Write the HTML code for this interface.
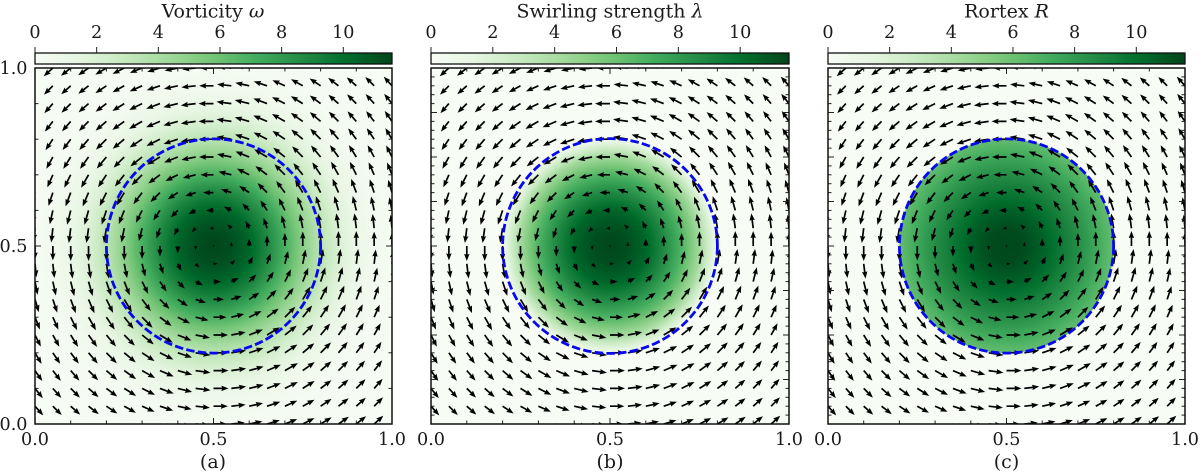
<!DOCTYPE html>
<html lang="en">
<head>
<meta charset="utf-8">
<title>Vorticity, swirling strength and Rortex</title>
<style>
html,body{margin:0;padding:0;background:#fff;width:1200px;height:475px;overflow:hidden}
svg{display:block}
text{font-family:"DejaVu Serif","Liberation Serif",serif;fill:#1a1a1a}
.title{font-size:19px;text-anchor:middle}
.cap{font-size:19px;text-anchor:middle}
.tick{font-size:17.6px}
</style>
</head>
<body>
<svg id="fig" width="1200" height="475" viewBox="0 0 1200 475" xmlns="http://www.w3.org/2000/svg">
  <defs id="defs"></defs>
  <text class="title" x="213" y="17.5">Vorticity <tspan font-style="italic">ω</tspan></text>
  <text class="title" x="610" y="17.5">Swirling strength <tspan font-style="italic">λ</tspan></text>
  <text class="title" x="1006.5" y="17.5">Rortex <tspan font-style="italic">R</tspan></text>
  <text class="cap" x="213" y="468">(a)</text>
  <text class="cap" x="610" y="468">(b)</text>
  <text class="cap" x="1006.5" y="468">(c)</text>
</svg>
<script>
// ---- data ----
const radiusSamples   = [0, .05, .1, .15, .2, .25, .3, .301, .35, .4, .45, .5, .6, .75];
const vorticityValues = [11.5, 11.2, 10.4, 8.9, 7.0, 5.1, 3.4, 3.4, 2.0, 1.0, .45, .2, .05, 0];
const swirlValues     = [11.5, 11.2, 10.4, 8.8, 6.8, 4.3, .6, 0, 0, 0, 0, 0, 0, 0];
const rortexValues    = [11.5, 11.3, 10.6, 9.6, 8.6, 7.4, 6.2, 0, 0, 0, 0, 0, 0, 0];
const speedRadii      = [0, .05, .1, .15, .2, .25, .3, .35, .4, .45, .5, .6, .72];
const speedValues     = [0, .27, .5, .7, .87, .97, 1, 1, 1, .96, .9, .85, .8];
const colorbarTicks   = [0, 2, 4, 6, 8, 10];
const colorbarMax     = 11.58;
const ringRadius      = 0.3;
const xTickLabels     = ['0.0', '0.5', '1.0'];
const yTickLabels     = ['0.0', '0.5', '1.0'];
const greens = ['#f7fcf5','#e5f5e0','#c7e9c0','#a1d99b','#74c476','#41ab5d','#238b45','#006d2c','#00441b'];

// ---- layout ----
const panels = [
  {id:'vorticity', x0:35,  x1:392, values:vorticityValues, yMajor:.5,   yMinor:.1,   labels:true},
  {id:'swirl',     x0:431, x1:789, values:swirlValues,     yMajor:.125, yMinor:.025, labels:false},
  {id:'rortex',    x0:828, x1:1185,values:rortexValues,    yMajor:.125, yMinor:.025, labels:false}
];
const yTop = 68, yBot = 424, cbTop = 53, cbBot = 64;
const arrowScale = 15, gridN = 20;
const NS = 'http://www.w3.org/2000/svg';
const fig = document.getElementById('fig');
const defs = document.getElementById('defs');

function mk(tag, attrs, parent){
  const e = document.createElementNS(NS, tag);
  for (const k in attrs) e.setAttribute(k, attrs[k]);
  parent.appendChild(e);
  return e;
}
function hex2(c){return [1,3,5].map(i=>parseInt(c.substr(i,2),16));}
function cmap(t){
  t = Math.max(0, Math.min(1, t));
  const p = t*(greens.length-1), i = Math.min(Math.floor(p), greens.length-2), f = p-i;
  const a = hex2(greens[i]), b = hex2(greens[i+1]);
  return 'rgb('+a.map((v,k)=>Math.round(v+(b[k]-v)*f)).join(',')+')';
}
function lookup(xs, ys, x){
  if (x >= xs[xs.length-1]) return ys[ys.length-1];
  for (let i=0;i<xs.length-1;i++){
    if (x <= xs[i+1]) return ys[i]+(ys[i+1]-ys[i])*(x-xs[i])/(xs[i+1]-xs[i]);
  }
  return 0;
}
function arrowPoints(x, y, dx, dy, L){
  const w = 1.7, hl = 4.2*w, hal = 3.8*w, hw = 1.6*w;
  const s = L < hl ? L/hl : 1;
  const len = L;
  const nx = -dy, ny = dx;
  const pts = [[0,w/2],[len-hal*s,w/2],[len-hl*s,hw*s],[len,0],[len-hl*s,-hw*s],[len-hal*s,-w/2],[0,-w/2]];
  return pts.map((p,i)=>{
    const off = (i===0||i===1||i===5||i===6) ? p[1]*s : p[1];
    return (x+dx*p[0]+nx*off).toFixed(2)+','+(y+dy*p[0]+ny*off).toFixed(2);
  }).join(' ');
}

panels.forEach((P)=>{
  const sx = v => P.x0 + (P.x1-P.x0)*v;
  const sy = v => yBot - (yBot-yTop)*v;
  const cx = v => P.x0 + (P.x1-P.x0)*v/colorbarMax;
  const unit = P.x1-P.x0;
  const g = mk('g', {}, fig);
  
  

  // colorbar
  const lg = mk('linearGradient', {id:'cb-'+P.id, x1:0, x2:1, y1:0, y2:0}, defs);
  greens.forEach((c,i)=>mk('stop', {offset:i/(greens.length-1), 'stop-color':c}, lg));
  const cb = mk('rect', {x:P.x0, y:cbTop, width:P.x1-P.x0, height:cbBot-cbTop, fill:'url(#cb-'+P.id+')', stroke:'#111', 'stroke-width':1.3}, g);
  
  
  colorbarTicks.forEach((t)=>{
    const tk = mk('line', {x1:cx(t), x2:cx(t), y1:cbTop, y2:cbTop-6, stroke:'#222', 'stroke-width':1}, g);
    
    
    const lb = mk('text', {x:cx(t), y:38, 'text-anchor':'middle', class:'tick'}, g);
    
    
    lb.textContent = String(t);
  });

  // heat map (radial field from sampled profile)
  const rMax = radiusSamples[radiusSamples.length-1];
  const rg = mk('radialGradient', {id:'heat-'+P.id, gradientUnits:'userSpaceOnUse', cx:sx(.5), cy:sy(.5), r:rMax*unit}, defs);
  for (let i=0;i<radiusSamples.length-1;i++){
    for (let k=0;k<8;k++){
      const r = radiusSamples[i]+(radiusSamples[i+1]-radiusSamples[i])*k/8;
      mk('stop', {offset:(r/rMax).toFixed(5), 'stop-color':cmap(lookup(radiusSamples,P.values,r)/colorbarMax)}, rg);
    }
  }
  mk('stop', {offset:1, 'stop-color':cmap(P.values[P.values.length-1]/colorbarMax)}, rg);
  const clip = mk('clipPath', {id:'clip-'+P.id}, defs);
  mk('rect', {x:P.x0, y:yTop, width:P.x1-P.x0, height:yBot-yTop}, clip);
  const plot = mk('g', {'clip-path':'url(#clip-'+P.id+')'}, g);
  const heat = mk('rect', {x:P.x0, y:yTop, width:P.x1-P.x0, height:yBot-yTop, fill:'url(#heat-'+P.id+')'}, plot);
  
  

  // quiver
  const q = mk('g', {fill:'#000'}, plot);
  
  
  for (let i=0;i<=gridN;i++){
    for (let j=0;j<=gridN;j++){
      const X = i/gridN, Y = j/gridN, dx = X-.5, dy = Y-.5, r = Math.hypot(dx,dy);
      if (r < 1e-6){
        const dot = mk('circle', {cx:sx(X), cy:sy(Y), r:.7}, q);
        
        
        continue;
      }
      const L = lookup(speedRadii, speedValues, r)*arrowScale;
      const a = mk('polygon', {points:arrowPoints(sx(X), sy(Y), -dy/r, -dx/r, L)}, q);
      
      
    }
  }

  // vortex boundary
  const ring = mk('circle', {cx:sx(.5), cy:sy(.5), r:ringRadius*unit, fill:'none', stroke:'#0808ee', 'stroke-width':2.8, 'stroke-dasharray':'8.5 3.2'}, plot);
  
  

  // ticks
  const tg = mk('g', {stroke:'#222', 'stroke-width':1}, g);
  
  
  const xMajorN = 2, xMinorN = 10;
  for (let k=1;k<xMinorN;k++){
    const v = k/xMinorN, l = (k%(xMinorN/xMajorN)===0) ? 6 : 3.5;
    mk('line', {x1:sx(v), x2:sx(v), y1:yBot, y2:yBot-l}, tg);
    mk('line', {x1:sx(v), x2:sx(v), y1:yTop, y2:yTop+l}, tg);
  }
  const nY = Math.round(1/P.yMinor), every = Math.round(P.yMajor/P.yMinor);
  for (let k=1;k<nY;k++){
    const v = k/nY, l = (k%every===0) ? 6 : 3.5;
    mk('line', {x1:P.x0, x2:P.x0+l, y1:sy(v), y2:sy(v)}, tg);
    mk('line', {x1:P.x1, x2:P.x1-l, y1:sy(v), y2:sy(v)}, tg);
  }

  // frame
  const fr = mk('rect', {x:P.x0, y:yTop, width:P.x1-P.x0, height:yBot-yTop, fill:'none', stroke:'#111', 'stroke-width':1.5}, g);
  
  

  // tick labels
  xTickLabels.forEach((s)=>{
    const t = mk('text', {x:sx(parseFloat(s)), y:445, 'text-anchor':'middle', class:'tick'}, g);
    
    
    t.textContent = s;
  });
  if (P.labels){
    yTickLabels.forEach((s)=>{
      const t = mk('text', {x:P.x0-7.5, y:sy(parseFloat(s))+6, 'text-anchor':'end', class:'tick'}, g);
      
      
      t.textContent = s;
    });
  }
});
</script>
</body>
</html>
